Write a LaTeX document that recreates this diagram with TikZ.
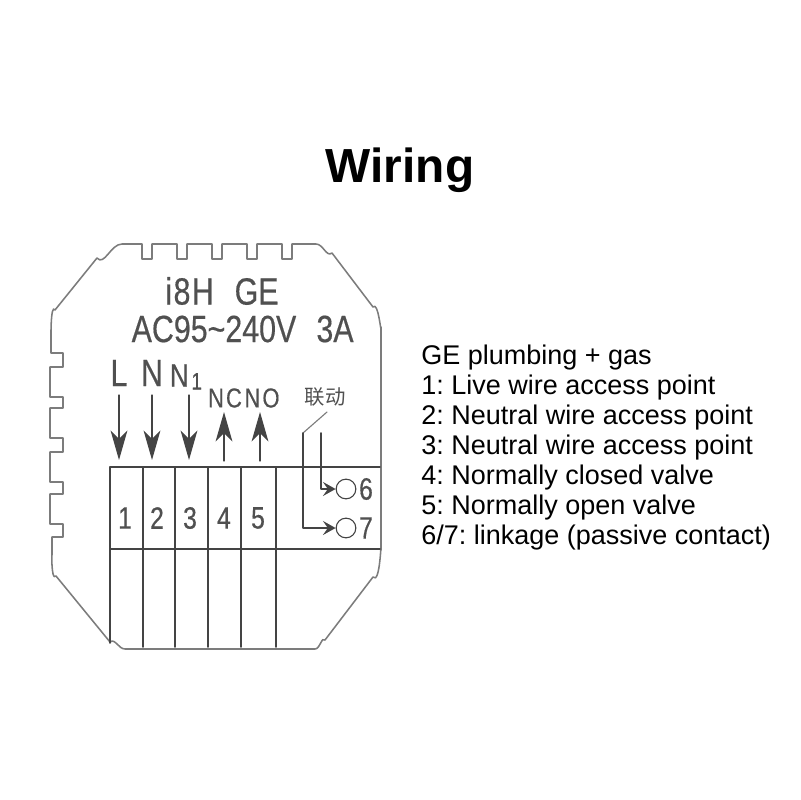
\documentclass[tikz,border=0pt]{standalone}
\usepackage{fontspec}
\setmainfont{Liberation Sans}
\newfontfamily\cjk{Noto Sans CJK SC}
\newfontfamily\narrowfont[FakeStretch=.8,FakeBold=.4]{Liberation Sans}
\usetikzlibrary{arrows.meta}
\definecolor{inkline}{HTML}{444444}
\definecolor{inkshell}{HTML}{7C7C7C}
\definecolor{inktext}{HTML}{505050}
\tikzset{
	shellline/.style={draw=inkshell,line width=1.1pt,line join=round},
	gridline/.style={draw=inkline,line width=1.1pt},
	wirearrow/.style={draw=inkline,fill=inkline,line width=.9pt,-{Stealth[length=21pt,width=12pt,inset=6pt]}},
	linkarrow/.style={draw=inkline,line width=1.1pt,-{Stealth[length=9pt,width=10pt,inset=3.5pt]}},
	contact/.style={draw=inkline,circle,line width=.8pt,minimum size=14pt,inner sep=0pt},
	marktext/.style={inktext,inner sep=0pt,font=\narrowfont\fontsize{27}{27}\selectfont},
	smalltext/.style={inktext,inner sep=0pt,font=\narrowfont\fontsize{19.5}{19.5}\selectfont},
	numtext/.style={inktext,inner sep=0pt,font=\narrowfont\fontsize{22}{22}\selectfont},
	legendtext/.style={black,inner sep=0pt,anchor=base west,font=\frenchspacing\fontsize{19.2}{19.2}\selectfont}
}
\begin{document}
\begin{tikzpicture}[x=.025cm,y=-.025cm,line join=round,line cap=round]
	\useasboundingbox (0,0) rectangle (800,800);
	\node[inner sep=0pt,font=\bfseries\fontsize{34}{34}\selectfont] (title) at (400,170) {Wiring};
	% housing
	\draw[shellline] (140,244)--(142,244)--(142,259)--(152,259)--(152,244)--(177,244)--(177,259)--(187,259)--(187,244)
		--(212,244)--(212,259)--(222,259)--(222,244)--(247,244)--(247,259)--(257,259)--(257,244)--(282,244)--(282,259)--(292,259)--(292,244)
		--(316,244) to[out=0,in=-140] (332,253)--(373,307) to[out=50,in=-90] (381,327)--(381,550) to[out=90,in=-50] (373,577)
		--(325,640) to[out=130,in=0] (315,649)--(125,649) to[out=180,in=40] (110,642)--(56,576) to[out=-130,in=90] (52,555)
		--(52,537)--(63,537)--(63,524)--(50,524)--(50,494)--(63,494)--(63,482)--(50,482)--(50,452)--(63,452)--(63,438)--(50,438)
		--(50,408)--(63,408)--(63,397)--(50,397)--(50,367)--(63,367)--(63,353)--(51,353)--(51,333) to[out=-90,in=120] (55,310)
		--(97,258) to[out=-50,in=180] (122,244)--cycle;
	% terminal block
	\coordinate (gridTL) at (110,467);
	\coordinate (gridTR) at (380,467);
	\coordinate (gridML) at (110,549);
	\coordinate (gridMR) at (380,549);
	\draw[gridline] (gridTL)--(gridTR) (gridML)--(gridMR);
	\foreach \x/\b in {110/643,143/647,175/647,208/647,241/647,276/647}
		\draw[gridline] (\x,467)--(\x,\b);
	\foreach \x/\n in {125/1,157/2,190/3,224/4,258/5}
		\node[numtext] (num\n) at (\x,518) {\n};
	% labels
	\node[marktext] (model) at (222,291) {i\kern1pt8\kern1ptH\hspace{.55em}GE};
	\node[marktext] (rating) at (214,329) {AC95\char`~240V};
	\node[marktext] (amp) at (335,329) {3A};
	\node[marktext] (lineL) at (119,373) {L};
	\node[marktext] (lineN) at (152,373) {N};
	\node[inktext,inner sep=0pt,font=\narrowfont\fontsize{23}{23}\selectfont] (lineNa) at (186,377) {N\kern2pt\raisebox{-2pt}{\fontsize{17}{17}\selectfont 1}};
	\node[smalltext] (lineNC) at (225,398) {N\kern1.5pt C};
	\node[smalltext] (lineNO) at (262,398) {N\kern1.5pt O};
	\node[inktext,inner sep=0pt,font=\cjk\fontsize{14.5}{14.5}\selectfont] (linkage) at (325,397) {联动};
	% arrows
	\foreach \x/\n in {119/a,152/b,189/c}{
		\coordinate (in\n) at (\x,395);
		\coordinate (out\n) at (\x,460);
		\draw[wirearrow] (in\n)--(out\n);
	}
	\foreach \x/\n in {224/d,260/e}{
		\coordinate (in\n) at (\x,461);
		\coordinate (out\n) at (\x,412);
		\draw[wirearrow] (in\n)--(out\n);
	}
	% linkage contacts
	\node[contact] (six) at (346,489) {};
	\node[contact] (seven) at (346,528) {};
	\node[numtext] (sixtext) at (366,489) {6};
	\node[numtext] (seventext) at (366,528) {7};
	\coordinate (swA) at (303,433);
	\coordinate (swB) at (327,412);
	\coordinate (swC) at (321,433);
	\draw[draw=inkshell,line width=.8pt] (swA)--(swB);
	\draw[linkarrow] (swA)|-(seven.west);
	\draw[linkarrow] (swC)|-(six.west);
	% legend
	\node[legendtext] (leg1) at (421,364) {GE plumbing + gas};
	\node[legendtext] (leg2) at (421,394) {1: Live wire access point};
	\node[legendtext] (leg3) at (421,424) {2: Neutral wire access point};
	\node[legendtext] (leg4) at (421,454) {3: Neutral wire access point};
	\node[legendtext] (leg5) at (421,484) {4: Normally closed valve};
	\node[legendtext] (leg6) at (421,514) {5: Normally open valve};
	\node[legendtext] (leg7) at (421,544) {6/7: linkage (passive contact)};
\end{tikzpicture}
\end{document}
